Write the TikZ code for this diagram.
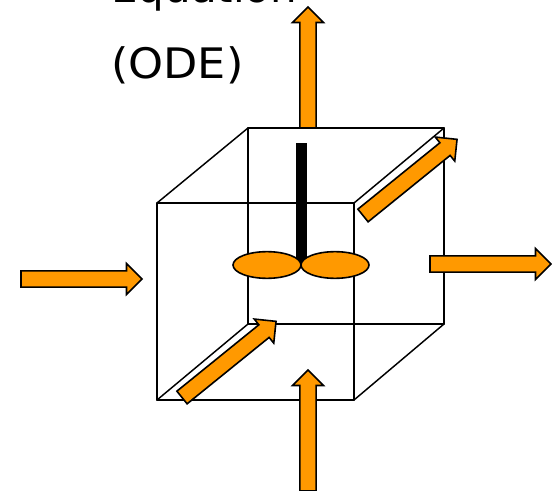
\documentclass[tikz,border=0pt]{standalone}
\usepackage{fontspec}
\setmainfont{DejaVu Sans}
\usepackage{tikz}
\usetikzlibrary{positioning}
\usetikzlibrary{shapes.geometric,shapes.arrows}
\definecolor{flow}{RGB}{255,153,0}
\tikzset{
    flowarrow/.style={single arrow, draw=black, fill=flow, line width=1.2pt, inner sep=0pt, outer sep=0pt,
        anchor=tail, minimum height=90.75pt, minimum width=22pt, text width=78pt, text height=11pt,
        single arrow head extend=5.5pt, single arrow head indent=0pt},
    blade/.style={ellipse, draw=black, fill=flow, line width=1.2pt, inner sep=0pt,
        minimum width=51pt, minimum height=20pt},
    label/.style={anchor=base west, inner sep=0pt, font=\fontsize{31.5pt}{36pt}\selectfont}
}

\begin{document}
\begin{tikzpicture}[x=0.75pt, y=-0.75pt]
            \useasboundingbox (0,0) rectangle (552,491);

            \node[label] (eq) at (111,3) {Equation};
            \node[label] (ode) at (111,79) {\scalebox{1.06}[1]{(ODE)}};

            % corners of the tank
            \coordinate (0) at (157,400);
            \coordinate (1) at (354,400);
            \coordinate (2) at (354,203);
            \coordinate (3) at (157,203);
            \coordinate (4) at (248,324);
            \coordinate (5) at (444,324);
            \coordinate (6) at (444,128);
            \coordinate (7) at (248,128);

            \begin{scope}[every edge/.style={draw=black, line width=1.1pt, line cap=round}]
                \path [-] (4) edge (5);
                \path [-] (5) edge (6);
                \path [-] (6) edge (7);
                \path [-] (7) edge (4);
                \path [-] (0) edge (4);
                \path [-] (1) edge (5);
                \path [-] (2) edge (6);
                \path [-] (3) edge (7);
                \path [-] (0) edge (1);
                \path [-] (1) edge (2);
                \path [-] (2) edge (3);
                \path [-] (3) edge (0);
            \end{scope}

            % stirrer
            \node[fill=black, inner sep=0pt, minimum width=8pt, minimum height=90pt] (shaft) at (301.5,203) {};
            \node[blade] (bladel) at (267,265) {};
            \node[blade] (blader) at (335,265) {};

            % streams in and out
            \begin{scope}[every node/.style={flowarrow}]
                \node (inleft) at (21,279) {};
                \node (outright) at (430,264) {};
                \node[rotate=90] (outtop) at (308,128) {};
                \node[rotate=90] (inbottom) at (308,491) {};
                \node[rotate=39] (backflow) at (363,215.5) {};
                \node[rotate=39] (frontflow) at (182,397.5) {};
            \end{scope}
        \end{tikzpicture}
\end{document}
